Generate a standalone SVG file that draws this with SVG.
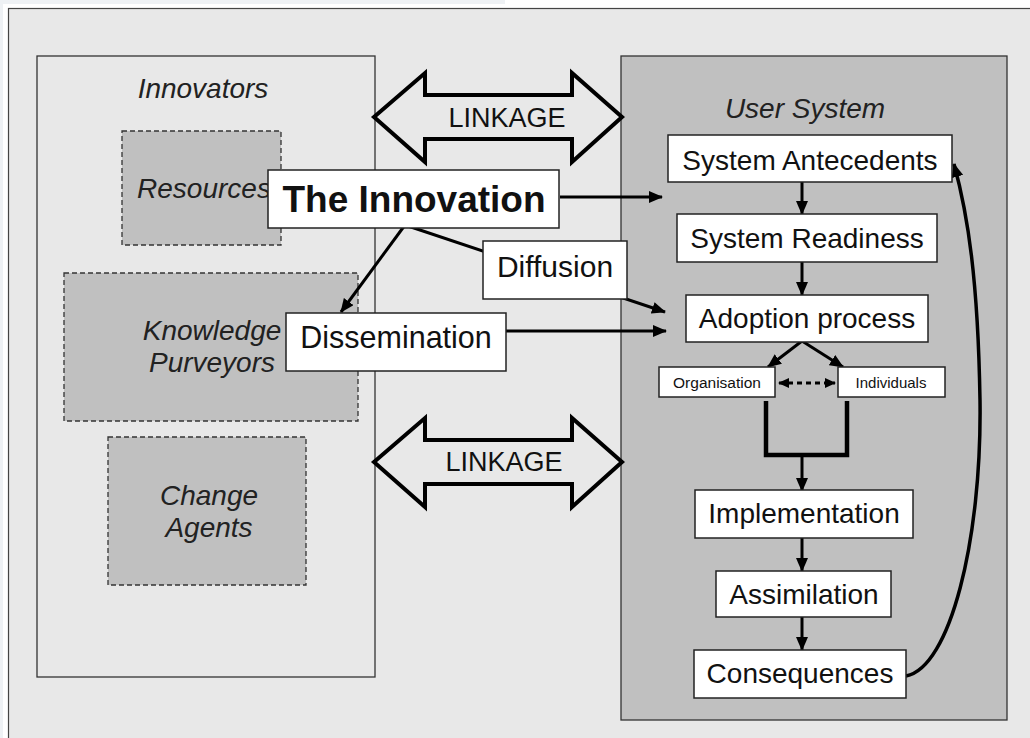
<svg xmlns="http://www.w3.org/2000/svg" width="1030" height="738" viewBox="0 0 1030 738">
<defs>
<style>
text{font-family:"Liberation Sans",Arial,sans-serif;fill:#111;}
.lbl{font-size:28px;text-anchor:middle;}
.it{font-size:28px;font-style:italic;text-anchor:middle;fill:#222;}
.small{font-size:15px;text-anchor:middle;}
.box{fill:#fff;stroke:#222;stroke-width:1.5;}
.dash{fill:#c0c0c0;stroke:#333;stroke-width:1.3;stroke-dasharray:5 3;}
.link{fill:#e8e8e8;stroke:#000;stroke-width:4;stroke-linejoin:miter;}
.ar{fill:none;stroke:#000;stroke-width:3;marker-end:url(#ah);}
</style>
<marker id="ah" markerUnits="userSpaceOnUse" markerWidth="14" markerHeight="12" refX="13" refY="6" orient="auto" viewBox="0 0 14 12">
<path d="M0,0 L14,6 L0,12 z" fill="#000"/>
</marker>
<marker id="ahs" markerUnits="userSpaceOnUse" markerWidth="11" markerHeight="10" refX="10" refY="5" orient="auto-start-reverse" viewBox="0 0 11 10">
<path d="M0,0 L11,5 L0,10 z" fill="#000"/>
</marker>
</defs>
<rect x="0" y="0" width="1030" height="738" fill="#fff"/>
<rect x="0" y="0" width="505" height="4" fill="#eef1f4"/>
<rect x="0" y="0" width="3" height="738" fill="#eef1f4"/>
<rect id="frame" x="8.5" y="8.5" width="1030" height="740" fill="#e8e8e8" stroke="#444" stroke-width="1.2"/>

<g id="innovators">
<rect x="37" y="56" width="338" height="621" fill="#e8e8e8" stroke="#333" stroke-width="1.3"/>
<text class="it" x="203" y="98">Innovators</text>
</g>
<g id="resources">
<rect class="dash" x="122" y="131" width="159" height="114"/>
<text class="it" x="204" y="198">Resources</text>
</g>
<g id="knowledge-purveyors">
<rect class="dash" x="64" y="273" width="294" height="148"/>
<text class="it" x="212" y="340">Knowledge</text>
<text class="it" x="212" y="372">Purveyors</text>
</g>
<g id="change-agents">
<rect class="dash" x="108" y="437" width="198" height="148"/>
<text class="it" x="209" y="505">Change</text>
<text class="it" x="209" y="537">Agents</text>
</g>

<g id="user-system">
<rect x="621" y="56" width="386" height="664" fill="#c0c0c0" stroke="#333" stroke-width="1.3"/>
<text class="it" x="805" y="118">User System</text>
</g>

<g id="linkage-top">
<polygon class="link" points="374,117 425,73 425,95 572,95 572,73 622,117 572,162 572,139 425,139 425,162"/>
<text class="lbl" x="507" y="127" style="font-size:27px">LINKAGE</text>
</g>
<g id="linkage-bottom">
<polygon class="link" points="374,462 425,418 425,440 572,440 572,418 622,462 572,507 572,484 425,484 425,507"/>
<text class="lbl" x="504" y="471" style="font-size:27px">LINKAGE</text>
</g>

<g id="connectors">
<line class="ar" x1="560" y1="197" x2="662" y2="197"/>
<line class="ar" x1="405" y1="225" x2="341" y2="312"/>
<line class="ar" x1="405" y1="225" x2="665" y2="312"/>
<line class="ar" x1="506" y1="331" x2="666" y2="331"/>
<line class="ar" x1="802" y1="182" x2="802" y2="214"/>
<line class="ar" x1="802" y1="262" x2="802" y2="295"/>
<line class="ar" x1="802" y1="341" x2="768" y2="367"/>
<line class="ar" x1="802" y1="341" x2="843" y2="367"/>
<line x1="779" y1="383" x2="835" y2="383" stroke="#000" stroke-width="3" stroke-dasharray="5 4" marker-start="url(#ahs)" marker-end="url(#ahs)"/>
<path d="M766,401 V455 H847 V401" fill="none" stroke="#000" stroke-width="4.5"/>
<line class="ar" x1="802" y1="455" x2="802" y2="491"/>
<line class="ar" x1="802" y1="538" x2="802" y2="571"/>
<line class="ar" x1="802" y1="617" x2="802" y2="650"/>
<path class="ar" d="M906,676 C950,668 982,540 980,400 C978,280 968,215 954,164" style="stroke-width:3.5"/>
</g>

<g id="the-innovation">
<rect class="box" x="268" y="170" width="291" height="58"/>
<text x="414" y="212" style="font-size:37px;font-weight:bold;text-anchor:middle">The Innovation</text>
</g>
<g id="diffusion">
<rect class="box" x="483" y="241" width="144" height="58"/>
<text class="lbl" x="555" y="277" style="font-size:30px">Diffusion</text>
</g>
<g id="dissemination">
<rect class="box" x="286" y="313" width="220" height="58"/>
<text class="lbl" x="396" y="348" style="font-size:30.5px">Dissemination</text>
</g>
<g id="system-antecedents">
<rect class="box" x="668" y="135" width="284" height="47"/>
<text class="lbl" x="810" y="170">System Antecedents</text>
</g>
<g id="system-readiness">
<rect class="box" x="677" y="214" width="260" height="48"/>
<text class="lbl" x="807" y="248">System Readiness</text>
</g>
<g id="adoption-process">
<rect class="box" x="686" y="295" width="242" height="47"/>
<text class="lbl" x="807" y="328">Adoption process</text>
</g>
<g id="organisation">
<rect class="box" x="659" y="367" width="116" height="30"/>
<text class="small" x="717" y="388" style="font-size:15.5px">Organisation</text>
</g>
<g id="individuals">
<rect class="box" x="838" y="367" width="107" height="30"/>
<text class="small" x="891" y="388">Individuals</text>
</g>
<g id="implementation">
<rect class="box" x="695" y="490" width="218" height="48"/>
<text class="lbl" x="804" y="523">Implementation</text>
</g>
<g id="assimilation">
<rect class="box" x="716" y="571" width="175" height="46"/>
<text class="lbl" x="804" y="604">Assimilation</text>
</g>
<g id="consequences">
<rect class="box" x="694" y="650" width="212" height="48"/>
<text class="lbl" x="800" y="683">Consequences</text>
</g>
</svg>
